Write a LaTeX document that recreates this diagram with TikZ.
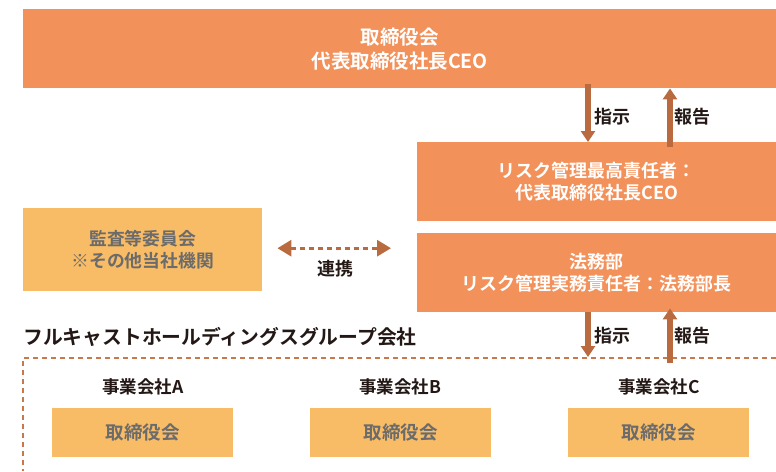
\documentclass[tikz,border=0pt]{standalone}
\usepackage{fontspec}
\setmainfont{Noto Sans CJK JP}[BoldFont={* Bold}]
\usetikzlibrary{arrows.meta}
\definecolor{orangebox}{HTML}{F3915A}
\definecolor{yellowbox}{HTML}{F8BC67}
\definecolor{arrowc}{HTML}{B96B3F}
\definecolor{framec}{HTML}{C8784A}
\definecolor{graytext}{HTML}{6B6B6B}
\definecolor{darktext}{HTML}{231815}
\begin{document}
\begin{tikzpicture}[x=1pt,y=-1pt,
  obox/.style={fill=orangebox, draw=none, text=white, align=center, inner sep=0pt, anchor=north west,
    font=\bfseries\fontsize{18}{21.5}\selectfont},
  ybox/.style={fill=yellowbox, draw=none, text=graytext, align=center, inner sep=0pt, anchor=north west,
    font=\bfseries\fontsize{17.8}{22}\selectfont},
  smallbox/.style={ybox, minimum width=181, minimum height=49, font=\bfseries\fontsize{18.5}{22}\selectfont},
  lbl/.style={text=darktext, inner sep=0pt, font=\bfseries\fontsize{18}{20}\selectfont},
  colbl/.style={text=darktext, inner sep=0pt, font=\bfseries\fontsize{17.5}{20}\selectfont},
  titlelbl/.style={text=darktext, inner sep=0pt, anchor=west, font=\bfseries\fontsize{19.8}{22}\selectfont},
  flow/.style={draw=arrowc, line width=5.5pt, -{Triangle[width=14pt,length=11pt]}},
  link/.style={draw=arrowc, line width=3pt, dash pattern=on 5pt off 4pt,
    {Triangle[width=16pt,length=14pt]}-{Triangle[width=16pt,length=14pt]}},
  grpframe/.style={draw=framec, line width=1.2pt, dash pattern=on 5pt off 4pt}
]
\useasboundingbox (0,0) rectangle (776,471);

% main boxes
\node[obox, minimum width=753, minimum height=79, font=\bfseries\fontsize{19.5}{24}\selectfont] (board) at (23,9) {取締役会\\代表取締役社長CEO};
\node[obox, minimum width=359, minimum height=79] (risk) at (417,142) {リスク管理最高責任者：\\代表取締役社長CEO};
\node[obox, minimum width=359, minimum height=79] (legal) at (417,233) {法務部\\リスク管理実務責任者：法務部長};
\node[ybox, minimum width=239, minimum height=83] (audit) at (23,208) {監査等委員会\\※その他当社機関};

% group companies
\node[titlelbl] (grp) at (23,337) {フルキャストホールディングスグループ会社};
\node[colbl] (coA) at (143,387) {事業会社A};
\node[colbl] (coB) at (400,387) {事業会社B};
\node[colbl] (coC) at (659,387) {事業会社C};
\node[smallbox] (bA) at (52,408) {取締役会};
\node[smallbox] (bB) at (310,408) {取締役会};
\node[smallbox] (bC) at (568,408) {取締役会};

% frame
\coordinate (frtl) at (23,358);
\coordinate (frtr) at (776,358);
\coordinate (frbl) at (23,471);
\draw[grpframe] (frtr) -- (frtl) -- (frbl);

% arrows
\coordinate (xd) at (588,0);
\coordinate (xu) at (670,0);
\draw[flow] ([yshift=4pt]board.south -| xd) -- (risk.north -| xd);
\draw[flow] ([yshift=-5pt]risk.north -| xu) -- (board.south -| xu);
\draw[flow] (legal.south -| xd) -- ([yshift=1pt]frtl -| xd);
\draw[flow] ([yshift=-5pt]frtl -| xu) -- ([yshift=4pt]legal.south -| xu);

\node[lbl] (ins1) at (612,117) {指示};
\node[lbl] (rep1) at (692,117) {報告};
\node[lbl] (ins2) at (612,336) {指示};
\node[lbl] (rep2) at (692,336) {報告};

% cooperation
\draw[link] ([xshift=15pt,yshift=1.5pt]audit.east) -- ([xshift=-26pt,yshift=1.5pt]legal.west |- audit.east);
\node[lbl] (coop) at (335,269) {連携};
\end{tikzpicture}
\end{document}
